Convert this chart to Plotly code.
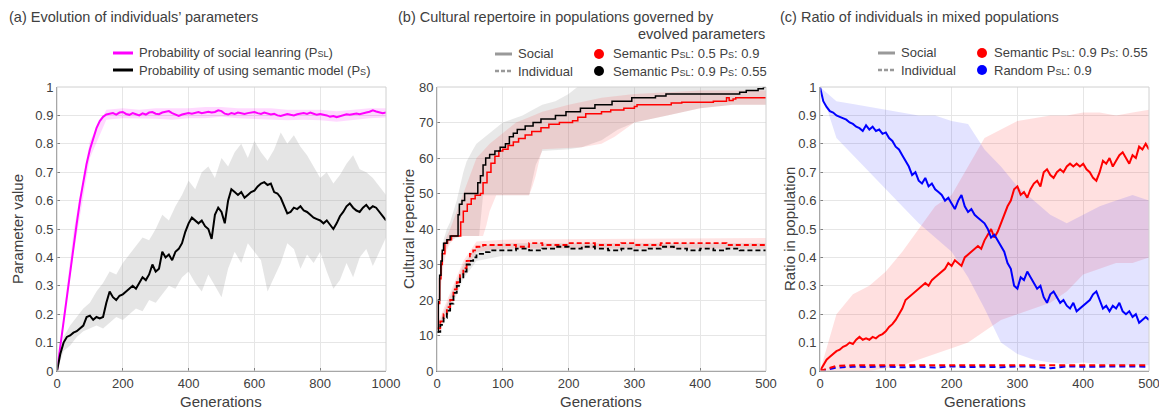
import plotly.graph_objects as go

# ---------------- Panel (a) data ----------------
gen_a = list(range(0, 1001, 10))
p_sl = [0, 0.09, 0.18, 0.27, 0.36, 0.45, 0.52, 0.60, 0.67, 0.73, 0.78, 0.82, 0.855, 0.88, 0.895, 0.903,
        0.905, 0.908, 0.903, 0.91, 0.912, 0.905, 0.902, 0.908, 0.904, 0.9, 0.907, 0.903, 0.91, 0.912,
        0.906, 0.904, 0.91, 0.913, 0.915, 0.908, 0.902, 0.898, 0.903, 0.905, 0.908, 0.906, 0.91, 0.912,
        0.908, 0.91, 0.913, 0.91, 0.912, 0.918, 0.915, 0.906, 0.903, 0.908, 0.905, 0.91, 0.907, 0.905,
        0.908, 0.91, 0.912, 0.908, 0.905, 0.91, 0.907, 0.903, 0.906, 0.9, 0.898, 0.902, 0.905, 0.902,
        0.9, 0.904, 0.906, 0.908, 0.905, 0.91, 0.906, 0.902, 0.905, 0.903, 0.9, 0.895, 0.898, 0.894,
        0.897, 0.9, 0.904, 0.902, 0.905, 0.907, 0.904, 0.908, 0.91, 0.913, 0.918, 0.914, 0.91, 0.908, 0.91]
p_s = [0, 0.06, 0.1, 0.12, 0.125, 0.135, 0.14, 0.15, 0.16, 0.19, 0.195, 0.18, 0.19, 0.185, 0.19, 0.24,
       0.28, 0.26, 0.25, 0.265, 0.27, 0.28, 0.29, 0.3, 0.29, 0.31, 0.33, 0.32, 0.34, 0.375, 0.35, 0.36,
       0.42, 0.4, 0.41, 0.39, 0.42, 0.43, 0.45, 0.49, 0.52, 0.54, 0.53, 0.52, 0.53, 0.51, 0.5, 0.465,
       0.55, 0.575, 0.56, 0.52, 0.6, 0.64, 0.63, 0.62, 0.63, 0.61, 0.62, 0.63, 0.635, 0.65, 0.66, 0.665,
       0.655, 0.66, 0.63, 0.625, 0.61, 0.58, 0.555, 0.56, 0.575, 0.57, 0.58, 0.565, 0.56, 0.55, 0.54,
       0.535, 0.53, 0.52, 0.53, 0.515, 0.5, 0.52, 0.545, 0.56, 0.58, 0.59, 0.575, 0.565, 0.56, 0.575,
       0.585, 0.57, 0.58, 0.575, 0.56, 0.545, 0.53]
gen_a_band = list(range(0, 1001, 20))
p_s_upper = [0, 0.12, 0.16, 0.19, 0.22, 0.24, 0.28, 0.31, 0.35, 0.34, 0.38, 0.41, 0.44, 0.47, 0.46, 0.5,
             0.55, 0.53, 0.58, 0.62, 0.67, 0.64, 0.7, 0.72, 0.68, 0.75, 0.72, 0.77, 0.8, 0.75, 0.81, 0.77,
             0.74, 0.78, 0.84, 0.8, 0.83, 0.79, 0.76, 0.72, 0.68, 0.7, 0.66, 0.69, 0.73, 0.76, 0.71, 0.7,
             0.68, 0.65, 0.62]
p_s_lower = [0, 0.07, 0.09, 0.12, 0.14, 0.15, 0.16, 0.15, 0.17, 0.19, 0.18, 0.2, 0.22, 0.21, 0.25, 0.24,
             0.27, 0.3, 0.29, 0.33, 0.35, 0.31, 0.28, 0.34, 0.3, 0.26, 0.36, 0.42, 0.38, 0.45, 0.42, 0.39,
             0.28, 0.33, 0.38, 0.45, 0.43, 0.36, 0.41, 0.38, 0.42, 0.35, 0.29, 0.32, 0.38, 0.33, 0.4, 0.43,
             0.37, 0.42, 0.47]
gen_a_mband = list(range(0, 1001, 50))
p_sl_upper = [0.0, 0.49, 0.81, 0.92, 0.925, 0.92, 0.925, 0.925, 0.925, 0.93, 0.93, 0.925, 0.925, 0.925,
              0.92, 0.92, 0.92, 0.915, 0.92, 0.925, 0.925]
p_sl_lower = [0.0, 0.41, 0.75, 0.885, 0.89, 0.888, 0.888, 0.885, 0.89, 0.89, 0.895, 0.89, 0.888, 0.885,
              0.883, 0.885, 0.883, 0.878, 0.885, 0.89, 0.893]

# ---------------- Panel (b) data ----------------
b_black_soc_x = [0, 2, 4, 6, 8, 10, 15, 20, 30, 32, 34, 38, 42, 58, 62, 66, 70, 74, 80, 88, 96, 104, 110,
                 116, 122, 134, 146, 158, 180, 196, 218, 240, 266, 296, 332, 348, 455, 460, 470, 488, 496, 500]
b_black_soc_y = [11, 20, 27, 31, 34, 36, 37, 38, 38, 44, 47, 48, 50, 50, 53, 55, 58, 60, 61, 62, 63, 64, 66,
                 67, 68, 69, 70, 71, 72, 73, 74, 75, 76, 77, 77.5, 78, 78, 78.5, 79, 79.5, 80, 80]
b_red_soc_x = [0, 2, 4, 6, 8, 12, 16, 22, 34, 36, 40, 46, 52, 58, 66, 70, 76, 82, 88, 94, 100, 108, 116,
               124, 134, 144, 158, 170, 186, 206, 214, 226, 250, 264, 284, 300, 304, 340, 356, 372, 420, 440,
               444, 450, 454, 500]
b_red_soc_y = [12, 19, 26, 30, 33, 36, 37, 38, 38, 42, 45, 47, 48.5, 49.5, 50, 53, 56, 58.5, 60.5, 62, 62.5,
               63.5, 64.5, 65.5, 66.5, 67.5, 68.5, 69.5, 70, 70.5, 71.5, 72.5, 73, 73.5, 74, 74.5, 75, 75,
               75.5, 75.7, 76, 77, 76.2, 76.6, 77, 77]
b_gray_up_x = [0, 5, 10, 15, 20, 25, 30, 35, 40, 45, 50, 55, 60, 70, 80, 90, 100, 115, 130, 145, 160, 180,
               200, 210, 220, 500]
b_gray_up_y = [12, 30, 37, 40, 42, 45, 48, 52, 56, 59, 61, 62.5, 64, 65.5, 67, 68.5, 70, 71, 72, 73.5, 75,
               76, 78, 79.5, 81, 81]
b_gray_lo_x = [0, 5, 10, 15, 20, 40, 64, 70, 140, 150, 160, 200, 220, 250, 275, 300, 350, 400, 450, 500]
b_gray_lo_y = [11, 24, 32, 35, 37, 38, 38, 49.5, 49.5, 58, 62, 62.5, 63, 65, 68, 70, 72, 74, 75, 75]
b_red_up_x = [0, 5, 10, 15, 20, 30, 40, 50, 60, 70, 80, 90, 100, 120, 140, 160, 200, 250, 300, 400, 500]
b_red_up_y = [12, 28, 36, 38, 40, 45, 50, 55, 60, 62, 64, 65.5, 67, 70, 71.5, 73, 75, 77, 78, 79, 79]
b_red_lo_x = [0, 5, 10, 15, 20, 30, 70, 75, 80, 85, 90, 140, 145, 150, 155, 160, 220, 250, 270, 300, 350,
              400, 450, 500]
b_red_lo_y = [12, 22, 30, 34, 36, 38, 38, 41, 45, 47.5, 49.5, 49.5, 52, 55, 59, 62.5, 63, 64, 66, 70, 72,
              74, 75, 75]

b_black_ind_x = [0, 5, 10, 15, 20, 25, 30, 35, 40, 45, 50, 55, 60, 70, 80, 100, 120, 140, 160, 180, 200,
                 220, 240, 260, 280, 300, 320, 340, 360, 380, 400, 420, 440, 460, 480, 500]
b_black_ind_y = [11, 13, 15, 17, 19, 22, 24, 26, 28, 30, 31, 32, 33, 33.5, 34, 34, 34.5, 34, 34.5, 35,
                 34.5, 35, 34.5, 34, 34.5, 34, 34.5, 35, 34.5, 34, 34.5, 34, 34.5, 34, 34, 34]
b_red_ind_x = [0, 5, 10, 15, 20, 25, 30, 35, 40, 45, 50, 55, 60, 70, 100, 120, 140, 160, 200, 240, 280,
               300, 340, 400, 440, 500]
b_red_ind_y = [12, 14, 16, 18, 20, 23, 25, 27, 29, 31, 33, 34, 35, 35.5, 35.5, 35, 36, 35.5, 36, 35.5,
               36, 35.5, 36, 36, 35.5, 36]
b_ind_band_x = [0, 20, 40, 60, 100, 500]
b_black_ind_up = [12, 21, 30, 35, 36, 36]
b_black_ind_lo = [10, 17, 26, 31, 32.5, 32.5]
b_red_ind_up = [13, 22, 31, 36.5, 37, 37.5]
b_red_ind_lo = [11, 18, 27, 33.5, 34.5, 34.5]

# ---------------- Panel (c) data ----------------
gen_c = list(range(0, 501, 5))
c_blue_soc = [1.0, 0.95, 0.93, 0.915, 0.91, 0.9, 0.895, 0.89, 0.885, 0.875, 0.87, 0.86, 0.855, 0.845,
              0.865, 0.85, 0.86, 0.845, 0.85, 0.835, 0.84, 0.82, 0.81, 0.79, 0.78, 0.76, 0.74, 0.72, 0.69,
              0.7, 0.67, 0.66, 0.68, 0.65, 0.66, 0.64, 0.63, 0.62, 0.6, 0.61, 0.59, 0.57, 0.6, 0.62, 0.58,
              0.56, 0.57, 0.55, 0.54, 0.53, 0.52, 0.5, 0.47, 0.48, 0.46, 0.44, 0.42, 0.38, 0.36, 0.3, 0.29,
              0.33, 0.32, 0.35, 0.33, 0.31, 0.29, 0.3, 0.26, 0.24, 0.27, 0.28, 0.26, 0.24, 0.25, 0.23, 0.22,
              0.24, 0.21, 0.22, 0.23, 0.24, 0.25, 0.27, 0.28, 0.25, 0.22, 0.23, 0.21, 0.23, 0.22, 0.24,
              0.21, 0.2, 0.21, 0.19, 0.2, 0.17, 0.18, 0.19, 0.18]
c_red_soc = [0.0, 0.02, 0.04, 0.05, 0.06, 0.07, 0.075, 0.085, 0.09, 0.1, 0.095, 0.11, 0.12, 0.11, 0.115,
             0.11, 0.12, 0.115, 0.125, 0.13, 0.14, 0.155, 0.165, 0.18, 0.2, 0.22, 0.25, 0.26, 0.27, 0.28,
             0.29, 0.3, 0.31, 0.3, 0.32, 0.33, 0.34, 0.35, 0.36, 0.38, 0.37, 0.39, 0.38, 0.37, 0.4, 0.41,
             0.42, 0.43, 0.44, 0.43, 0.46, 0.48, 0.5, 0.47, 0.49, 0.52, 0.55, 0.58, 0.6, 0.64, 0.65, 0.62,
             0.63, 0.61, 0.64, 0.66, 0.67, 0.65, 0.7, 0.71, 0.69, 0.68, 0.7, 0.71, 0.7, 0.72, 0.73, 0.72,
             0.73, 0.72, 0.73, 0.71, 0.7, 0.68, 0.67, 0.7, 0.74, 0.73, 0.75, 0.72, 0.74, 0.76, 0.77, 0.75,
             0.73, 0.76, 0.75, 0.79, 0.78, 0.8, 0.78]
gen_c_band = list(range(0, 501, 25))
c_blue_up = [1.0, 0.95, 0.94, 0.93, 0.92, 0.91, 0.9, 0.9, 0.88, 0.87, 0.78, 0.72, 0.65, 0.6, 0.55, 0.52,
             0.55, 0.58, 0.6, 0.62, 0.6]
c_blue_lo = [1.0, 0.82, 0.76, 0.7, 0.64, 0.58, 0.52, 0.47, 0.42, 0.33, 0.22, 0.1, 0.06, 0.04, 0.03,
             0.025, 0.03, 0.025, 0.02, 0.02, 0.02]
c_red_up = [0.0, 0.2, 0.27, 0.3, 0.35, 0.42, 0.5, 0.58, 0.62, 0.72, 0.82, 0.85, 0.88, 0.89, 0.9, 0.9,
            0.91, 0.91, 0.9, 0.91, 0.92]
c_red_lo = [0.0, 0.0, 0.0, 0.0, 0.01, 0.02, 0.04, 0.06, 0.08, 0.1, 0.14, 0.18, 0.2, 0.22, 0.24, 0.28,
            0.34, 0.36, 0.38, 0.38, 0.4]
c_red_ind = [0.0, 0.018, 0.02, 0.02, 0.02, 0.02, 0.02, 0.02, 0.02, 0.02, 0.02, 0.02, 0.02, 0.02, 0.02,
             0.02, 0.02, 0.02, 0.02, 0.02, 0.02]
c_blue_ind = [0.0, 0.012, 0.015, 0.014, 0.016, 0.013, 0.015, 0.012, 0.016, 0.014, 0.015, 0.013, 0.016,
              0.015, 0.01, 0.016, 0.015, 0.016, 0.015, 0.016, 0.015]

# ---------------- labels ----------------
x_ticks_a = [0, 200, 400, 600, 800, 1000]
x_ticks_bc = [0, 100, 200, 300, 400, 500]
y_ticks_ratio = [0, 0.1, 0.2, 0.3, 0.4, 0.5, 0.6, 0.7, 0.8, 0.9, 1]
y_ticks_b = [0, 10, 20, 30, 40, 50, 60, 70, 80]

FONT = "Liberation Sans, Arial, sans-serif"
TXT = "#404040"
SUB = "<span style='font-size:9px'>%s</span>"


def band(fig, x, up, lo, color, axis):
    fig.add_trace(go.Scatter(x=list(x) + list(x)[::-1], y=list(up) + list(lo)[::-1], fill="toself",
                             fillcolor=color, line=dict(width=0), mode="lines", hoverinfo="skip",
                             showlegend=False, xaxis=axis[0], yaxis=axis[1]))


def line(fig, x, y, color, width, axis, dash="solid", shape="linear"):
    fig.add_trace(go.Scatter(x=x, y=y, mode="lines", line=dict(color=color, width=width, dash=dash,
                                                               shape=shape),
                             showlegend=False, xaxis=axis[0], yaxis=axis[1]))


def band_xy(fig, xu, up, xl, lo, color, axis):
    fig.add_trace(go.Scatter(x=list(xu) + list(xl)[::-1], y=list(up) + list(lo)[::-1], fill="toself",
                             fillcolor=color, line=dict(width=0), mode="lines", hoverinfo="skip",
                             showlegend=False, xaxis=axis[0], yaxis=axis[1]))


fig = go.Figure()
A = ("x", "y"); B = ("x2", "y2"); C = ("x3", "y3")

# panel a
band(fig, gen_a_band, p_s_upper, p_s_lower, "rgba(150,150,150,0.25)", A)
band(fig, gen_a_mband, p_sl_upper, p_sl_lower, "rgba(255,0,255,0.15)", A)
line(fig, gen_a, p_sl, "#ff00ff", 2, A)
line(fig, gen_a, p_s, "#000000", 2, A)

# panel b
band_xy(fig, b_gray_up_x, b_gray_up_y, b_gray_lo_x, b_gray_lo_y, "rgba(150,150,150,0.22)", B)
band_xy(fig, b_red_up_x, b_red_up_y, b_red_lo_x, b_red_lo_y, "rgba(255,0,0,0.11)", B)
band(fig, b_ind_band_x, b_black_ind_up, b_black_ind_lo, "rgba(150,150,150,0.22)", B)
band(fig, b_ind_band_x, b_red_ind_up, b_red_ind_lo, "rgba(255,0,0,0.11)", B)
line(fig, b_red_ind_x, b_red_ind_y, "#ff0000", 1.8, B, dash="5px,3px", shape="hv")
line(fig, b_black_ind_x, b_black_ind_y, "#000000", 1.8, B, dash="5px,3px", shape="hv")
line(fig, b_red_soc_x, b_red_soc_y, "#ff0000", 1.5, B, shape="hv")
line(fig, b_black_soc_x, b_black_soc_y, "#000000", 1.5, B, shape="hv")

# panel c
band(fig, gen_c_band, c_red_up, c_red_lo, "rgba(255,0,0,0.12)", C)
band(fig, gen_c_band, c_blue_up, c_blue_lo, "rgba(0,0,255,0.11)", C)
line(fig, gen_c_band, c_blue_ind, "#0000ff", 2, C, dash="6px,4px")
line(fig, gen_c_band, c_red_ind, "#ff0000", 2, C, dash="6px,4px")
line(fig, gen_c, c_red_soc, "#ff0000", 2, C)
line(fig, gen_c, c_blue_soc, "#0000ff", 2, C)

# page has an 8px body margin: the figure starts at screen (8, 8)
OFF = 8
W, H = 1167 - OFF, 412 - OFF
def px(x):
    return (x - OFF) / W
def py(y):
    return 1 - (y - OFF) / H

ydom = [py(371), py(87)]
axis_common = dict(showgrid=True, gridcolor="#e6e6e6", gridwidth=1, zeroline=False, showline=True,
                   linecolor="#7f7f7f", linewidth=1, ticks="inside", ticklen=3, tickcolor="#7f7f7f",
                   automargin=False, tickfont=dict(family=FONT, size=13, color=TXT))

fig.update_layout(
    template="none",
    width=W, height=H, margin=dict(l=0, r=0, t=0, b=0, autoexpand=False),
    paper_bgcolor="white", plot_bgcolor="white", showlegend=False,
    xaxis=dict(domain=[px(57), px(386)], range=[0, 1000], tickvals=x_ticks_a, anchor="y", **axis_common),
    yaxis=dict(domain=ydom, range=[0, 1], tickvals=y_ticks_ratio, anchor="x", **axis_common),
    xaxis2=dict(domain=[px(437), px(766)], range=[0, 500], tickvals=x_ticks_bc, anchor="y2", **axis_common),
    yaxis2=dict(domain=ydom, range=[0, 80], tickvals=y_ticks_b, anchor="x2", **axis_common),
    xaxis3=dict(domain=[px(820), px(1149)], range=[0, 500], tickvals=x_ticks_bc, anchor="y3", **axis_common),
    yaxis3=dict(domain=ydom, range=[0, 1], tickvals=y_ticks_ratio, anchor="x3", **axis_common),
)

shapes = []
for xa, ya in [("x", "y"), ("x2", "y2"), ("x3", "y3")]:
    shapes.append(dict(type="rect", xref=xa + " domain", yref=ya + " domain", x0=0, x1=1, y0=0, y1=1,
                       line=dict(color="#d0d0d0", width=1), layer="above"))

annotations = []
def txt(x, y, s, size=13, xanchor="left", angle=0, color=TXT, yanchor="middle"):
    annotations.append(dict(x=px(x), y=py(y), xref="paper", yref="paper", text=s, showarrow=False,
                            xanchor=xanchor, yanchor=yanchor, textangle=angle, borderpad=0,
                            font=dict(family=FONT, size=size, color=color)))

def leg_line(x0, x1, y, color, dash="solid"):
    shapes.append(dict(type="line", xref="paper", yref="paper", x0=px(x0), x1=px(x1), y0=py(y), y1=py(y),
                       line=dict(color=color, width=3 if dash == "solid" else 2.5, dash=dash)))

def leg_dot(x, y, color):
    shapes.append(dict(type="circle", xref="paper", yref="paper", xsizemode="pixel", ysizemode="pixel",
                       xanchor=px(x), yanchor=py(y), x0=-5, x1=5, y0=-5, y1=5,
                       fillcolor=color, line=dict(color=color, width=0)))

# titles
txt(8, 8, "(a) Evolution of individuals’ parameters", size=14.5, yanchor="top")
txt(397, 8, "(b) Cultural repertoire in populations governed by", size=14.5, yanchor="top")
txt(766, 34, "evolved parameters", size=14.5, xanchor="right")
txt(779, 8, "(c) Ratio of individuals in mixed populations", size=14.5, yanchor="top")

# legend a
leg_line(113, 133, 53, "#ff00ff")
leg_line(113, 133, 70, "#000000")
txt(138, 53, "Probability of social leanring (P" + SUB % "SL" + ")", size=13)
txt(138, 70, "Probability of using semantic model (P" + SUB % "S" + ")", size=13)

# legend b
leg_line(495, 512, 54, "#999999")
leg_line(495, 512, 71, "#999999", dash="4px,2px")
txt(517, 54, "Social", size=13)
txt(517, 71, "Individual", size=13)
leg_dot(599, 54, "#ff0000")
leg_dot(599, 71, "#000000")
txt(612, 54, "Semantic P" + SUB % "SL" + ": 0.5 P" + SUB % "S" + ": 0.9", size=13)
txt(612, 71, "Semantic P" + SUB % "SL" + ": 0.9 P" + SUB % "S" + ": 0.55", size=13)

# legend c
leg_line(878, 895, 53, "#999999")
leg_line(878, 895, 70, "#999999", dash="4px,2px")
txt(900, 53, "Social", size=13)
txt(900, 70, "Individual", size=13)
leg_dot(982, 53, "#ff0000")
leg_dot(982, 70, "#0000ff")
txt(993, 53, "Semantic P" + SUB % "SL" + ": 0.9 P" + SUB % "S" + ": 0.55", size=13)
txt(993, 70, "Random P" + SUB % "SL" + ": 0.9", size=13)

# axis titles
txt(221, 401, "Generations", size=15, xanchor="center")
txt(601, 401, "Generations", size=15, xanchor="center")
txt(985, 401, "Generations", size=15, xanchor="center")
txt(17, 229, "Parameter value", size=15, xanchor="center", angle=-90)
txt(408, 229, "Cultural repertoire", size=15, xanchor="center", angle=-90)
txt(789, 229, "Ratio in population", size=15, xanchor="center", angle=-90)

fig.update_layout(shapes=shapes, annotations=annotations)
fig.write_html("out.html")
